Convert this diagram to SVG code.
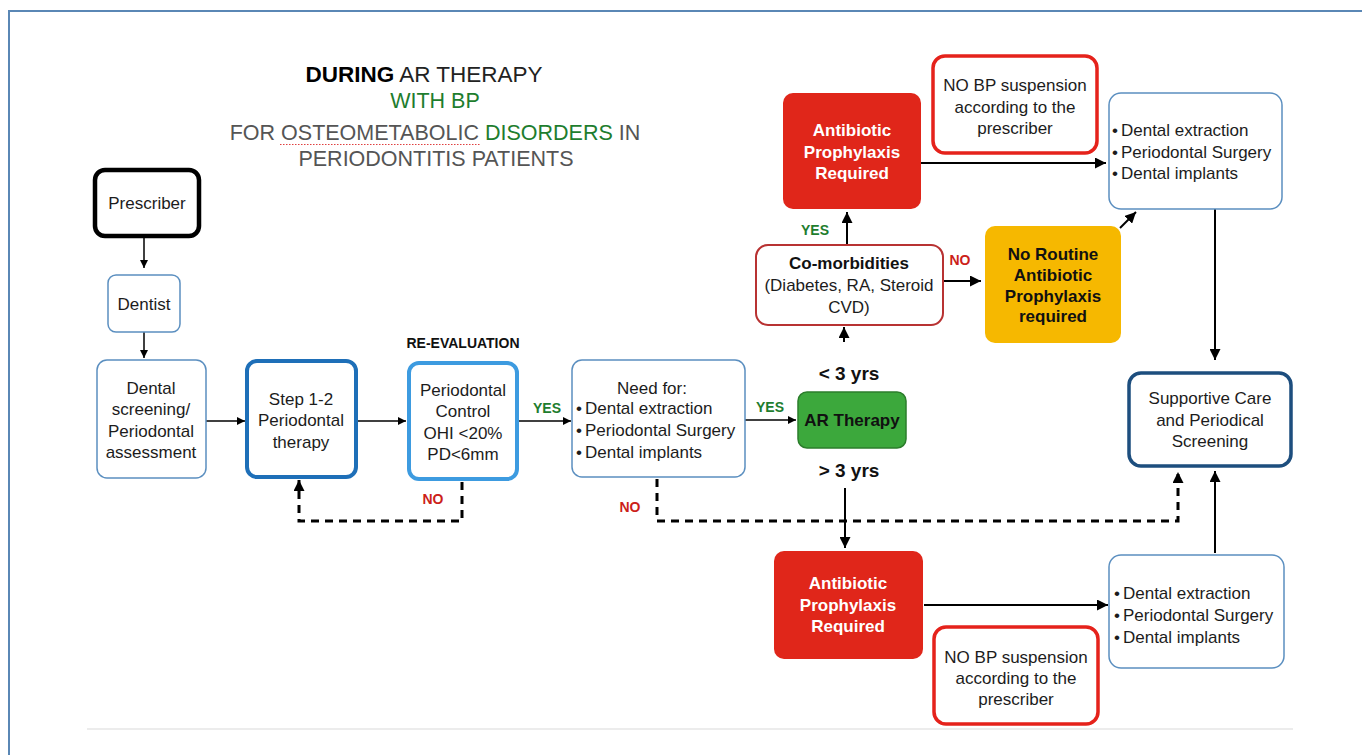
<svg xmlns="http://www.w3.org/2000/svg" width="1362" height="755" viewBox="0 0 1362 755">
<defs>
<marker id="ah" viewBox="0 0 10 10" refX="10" refY="5" markerWidth="8" markerHeight="8" markerUnits="userSpaceOnUse" orient="auto"><path d="M0,0 L10,5 L0,10 z" fill="#000"/></marker>
<marker id="ahb" viewBox="0 0 10 10" refX="10" refY="5" markerWidth="11" markerHeight="11" markerUnits="userSpaceOnUse" orient="auto"><path d="M0,0 L10,5 L0,10 z" fill="#000"/></marker>
<style>
text{font-family:"Liberation Sans",Arial,sans-serif;}
.t{font-size:17px;fill:#1c1c1c;text-anchor:middle;}
.tl{font-size:17px;fill:#1c1c1c;}
.w{font-size:17px;fill:#fff;font-weight:bold;text-anchor:middle;}
.b{font-size:17px;fill:#111;font-weight:bold;text-anchor:middle;}
.yes{font-size:14px;fill:#1e7d2e;font-weight:bold;text-anchor:middle;}
.no{font-size:14px;fill:#cc1f1a;font-weight:bold;text-anchor:middle;}
.thin{fill:#fff;stroke:#5b8fc0;stroke-width:1.5;}
.nobp{fill:#fff;stroke:#e5221b;stroke-width:3.5;}
.red{fill:#e0261a;}
.c1{stroke:#000;stroke-width:1.5;fill:none;}
.c2{stroke:#000;stroke-width:2;fill:none;}
.d{stroke:#000;stroke-width:3;fill:none;stroke-dasharray:8 6;}
.title{font-size:21.5px;text-anchor:middle;fill:#555;}
</style>
</defs>
<rect width="1362" height="755" fill="#fff"/>
<path d="M9,755 L9,11 L1362,11" fill="none" stroke="#5a87b5" stroke-width="2"/>
<line x1="87" y1="729" x2="1293" y2="729" stroke="#e6e6e6" stroke-width="1.5"/>

<g id="title">
<text class="title" x="424" y="82" style="font-size:22.5px"><tspan font-weight="bold" fill="#000">DURING</tspan> <tspan fill="#222">AR THERAPY</tspan></text>
<text class="title" x="435" y="108" style="fill:#1e7d2e">WITH BP</text>
<text class="title" x="435" y="140">FOR OSTEOMETABOLIC <tspan style="fill:#1e7d2e">DISORDERS</tspan> IN</text>
<line x1="280" y1="144.5" x2="480" y2="144.5" stroke="#e04040" stroke-width="1.2" stroke-dasharray="1.5 1.5"/>
<text class="title" x="436" y="166">PERIODONTITIS PATIENTS</text>
</g>

<g id="connectors">
<line class="c1" x1="144" y1="237" x2="144" y2="268" marker-end="url(#ah)"/>
<line class="c1" x1="144" y1="332" x2="144" y2="358" marker-end="url(#ah)"/>
<line class="c1" x1="206" y1="421" x2="245" y2="421" marker-end="url(#ah)"/>
<line class="c1" x1="357" y1="421" x2="406" y2="421" marker-end="url(#ah)"/>
<line class="c1" x1="518" y1="421" x2="571" y2="421" marker-end="url(#ah)"/>
<line class="c1" x1="745" y1="420" x2="796" y2="420" marker-end="url(#ah)"/>
<path class="d" d="M462,482 L462,521 L299,521 L299,480" marker-end="url(#ahb)"/>
<path class="d" d="M657,479 L657,521 L1178,521 L1178,472" marker-end="url(#ahb)"/>
<line class="c2" x1="845" y1="488" x2="845" y2="548" marker-end="url(#ahb)"/>
<line class="c2" x1="844" y1="342" x2="844" y2="327" marker-end="url(#ahb)"/>
<line class="c2" x1="847" y1="245" x2="847" y2="212" marker-end="url(#ahb)"/>
<line class="c2" x1="921" y1="163" x2="1106" y2="163" marker-end="url(#ahb)"/>
<line class="c2" x1="943" y1="281" x2="981" y2="281" marker-end="url(#ahb)"/>
<line class="c2" x1="1120" y1="228" x2="1136" y2="212" marker-end="url(#ahb)"/>
<line class="c2" x1="1215" y1="209" x2="1215" y2="360" marker-end="url(#ahb)"/>
<line class="c2" x1="1215" y1="553" x2="1215" y2="471" marker-end="url(#ahb)"/>
<line class="c2" x1="924" y1="605" x2="1108" y2="605" marker-end="url(#ahb)"/>
<text class="no" x="433" y="504">NO</text>
<text class="yes" x="547" y="413">YES</text>
<text class="yes" x="770" y="412">YES</text>
<text class="no" x="630" y="512">NO</text>
<text class="yes" x="815" y="235">YES</text>
<text class="no" x="960" y="265">NO</text>
<text x="463" y="348" style="font-size:14px;font-weight:bold;text-anchor:middle;fill:#111">RE-EVALUATION</text>
<text x="849" y="380" style="font-size:19px;font-weight:bold;text-anchor:middle;fill:#111">&lt; 3 yrs</text>
<text x="849" y="477" style="font-size:19px;font-weight:bold;text-anchor:middle;fill:#111">&gt; 3 yrs</text>
</g>

<g id="prescriber">
<rect x="95" y="170" width="104" height="66" rx="10" fill="#fff" stroke="#000" stroke-width="4.5"/>
<text class="t" x="147" y="209">Prescriber</text>
</g>
<g id="dentist">
<rect class="thin" x="108" y="275" width="72" height="57" rx="8"/>
<text class="t" x="144" y="310">Dentist</text>
</g>
<g id="screening">
<rect class="thin" x="97" y="360" width="109" height="118" rx="10"/>
<text class="t" x="151" y="394">Dental</text>
<text class="t" x="151" y="415">screening/</text>
<text class="t" x="151" y="437">Periodontal</text>
<text class="t" x="151" y="458">assessment</text>
</g>
<g id="step">
<rect x="247" y="361" width="109" height="116" rx="10" fill="#fff" stroke="#1e6fb8" stroke-width="4"/>
<text class="t" x="301" y="405">Step 1-2</text>
<text class="t" x="301" y="426">Periodontal</text>
<text class="t" x="301" y="448">therapy</text>
</g>
<g id="control">
<rect x="409" y="363" width="108" height="116" rx="10" fill="#fff" stroke="#3d9be0" stroke-width="4"/>
<text class="t" x="463" y="396">Periodontal</text>
<text class="t" x="463" y="417">Control</text>
<text class="t" x="463" y="439">OHI &lt;20%</text>
<text class="t" x="463" y="460">PD&lt;6mm</text>
</g>
<g id="need">
<rect class="thin" x="572" y="360" width="173" height="117" rx="10"/>
<text class="t" x="652" y="394">Need for:</text>
<text class="tl" x="576" y="414">•<tspan dx="3">Dental extraction</tspan></text>
<text class="tl" x="576" y="436">•<tspan dx="3">Periodontal  Surgery</tspan></text>
<text class="tl" x="576" y="458">•<tspan dx="3">Dental implants</tspan></text>
</g>
<g id="ar">
<rect x="798" y="392" width="108" height="56" rx="9" fill="#3ca83c" stroke="#2b7d2b" stroke-width="1.5"/>
<text class="b" x="852" y="426">AR Therapy</text>
</g>
<g id="comorb">
<rect x="756" y="245" width="187" height="80" rx="12" fill="#fff" stroke="#b83232" stroke-width="2"/>
<text class="b" x="849" y="269">Co-morbidities</text>
<text class="t" x="849" y="291">(Diabetes, RA, Steroid</text>
<text class="t" x="849" y="313">CVD)</text>
</g>
<g id="abx-top">
<rect class="red" x="783" y="93" width="138" height="116" rx="10"/>
<text class="w" x="852" y="136">Antibiotic</text>
<text class="w" x="852" y="158">Prophylaxis</text>
<text class="w" x="852" y="179">Required</text>
</g>
<g id="nobp-top">
<rect class="nobp" x="933" y="56" width="164" height="97" rx="12"/>
<text class="t" x="1015" y="91">NO BP suspension</text>
<text class="t" x="1015" y="113">according to the</text>
<text class="t" x="1015" y="134">prescriber</text>
</g>
<g id="noroutine">
<rect x="985" y="226" width="136" height="117" rx="10" fill="#f6b800"/>
<text class="b" x="1053" y="260">No Routine</text>
<text class="b" x="1053" y="281">Antibiotic</text>
<text class="b" x="1053" y="302">Prophylaxis</text>
<text class="b" x="1053" y="322">required</text>
</g>
<g id="procedures-top">
<rect class="thin" x="1109" y="93" width="173" height="116" rx="12"/>
<text class="tl" x="1112" y="136">•<tspan dx="3">Dental extraction</tspan></text>
<text class="tl" x="1112" y="158">•<tspan dx="3">Periodontal Surgery</tspan></text>
<text class="tl" x="1112" y="179">•<tspan dx="3">Dental implants</tspan></text>
</g>
<g id="supportive">
<rect x="1129" y="373" width="162" height="93" rx="12" fill="#fff" stroke="#1d4e7e" stroke-width="3.5"/>
<text class="t" x="1210" y="404">Supportive Care</text>
<text class="t" x="1210" y="426">and Periodical</text>
<text class="t" x="1210" y="447">Screening</text>
</g>
<g id="abx-bottom">
<rect class="red" x="774" y="551" width="149" height="108" rx="10"/>
<text class="w" x="848" y="589">Antibiotic</text>
<text class="w" x="848" y="611">Prophylaxis</text>
<text class="w" x="848" y="632">Required</text>
</g>
<g id="nobp-bottom">
<rect class="nobp" x="934" y="627" width="164" height="97" rx="12"/>
<text class="t" x="1016" y="663">NO BP suspension</text>
<text class="t" x="1016" y="684">according to the</text>
<text class="t" x="1016" y="705">prescriber</text>
</g>
<g id="procedures-bottom">
<rect class="thin" x="1109" y="555" width="175" height="113" rx="12"/>
<text class="tl" x="1114" y="599">•<tspan dx="3">Dental extraction</tspan></text>
<text class="tl" x="1114" y="621">•<tspan dx="3">Periodontal Surgery</tspan></text>
<text class="tl" x="1114" y="643">•<tspan dx="3">Dental implants</tspan></text>
</g>
</svg>
